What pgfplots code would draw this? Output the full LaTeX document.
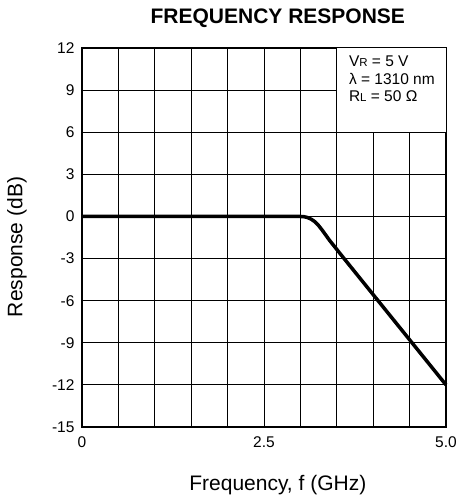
\documentclass[border=0pt]{standalone}
\usepackage{pgfplots}
\pgfplotsset{compat=1.18}
\usepackage{fontspec}
\setmainfont{Liberation Sans}
\begin{document}
\begin{tikzpicture}
\begin{axis}[
  scale only axis, width=364pt, height=379pt,
  xmin=0, xmax=5, ymin=-15, ymax=12,
  xtick={0,0.5,1,1.5,2,2.5,3,3.5,4,4.5,5},
  xticklabels={0,,,,,2.5,,,,,5.0},
  ytick={-15,-12,-9,-6,-3,0,3,6,9,12},
  yticklabels={-15,-12,-9,-6,-3,0,3,6,9,12},
  grid=major, grid style={black, line width=1pt},
  axis line style={black, line width=1.2pt},
  major tick length=0pt,
  tick label style={font=\fontsize{15.5}{15.5}\selectfont},
  xticklabel style={yshift=-6pt},
  yticklabel style={xshift=-4pt},
  clip=false,
]
\addplot[black, line width=3.5pt, line join=round] coordinates {
  (0,0) (3.0,0) (3.05,-0.02) (3.1,-0.08) (3.15,-0.2) (3.2,-0.38)
  (3.25,-0.65) (3.3,-0.98) (3.4,-1.7) (3.6,-3.0) (5.0,-12.0)};
\fill[white] (axis cs:3.5,6) rectangle (axis cs:5,12);
\draw[black, line width=1pt] (axis cs:3.5,6) rectangle (axis cs:5,12);
\node[anchor=north west, align=left, font=\fontsize{15.5}{17.5}\selectfont, inner sep=0pt]
  at ([xshift=12pt,yshift=-8pt]axis cs:3.5,12)
  {V{\fontsize{11.5}{11.5}\selectfont R} = 5 V\\ λ = 1310 nm\\ R{\fontsize{11.5}{11.5}\selectfont L} = 50 Ω};
\node[font=\fontsize{21}{21}\selectfont\bfseries] at ([yshift=30pt]rel axis cs:0.538,1) {FREQUENCY RESPONSE};
\node[font=\fontsize{21}{21}\selectfont] at ([yshift=-58pt]rel axis cs:0.538,0) {Frequency, f (GHz)};
\node[font=\fontsize{21}{21}\selectfont, rotate=90] at ([xshift=-65pt]rel axis cs:0,0.475) {Response (dB)};
\end{axis}
\path ([xshift=-82pt,yshift=-75pt]current axis.south west) ([xshift=12pt,yshift=48pt]current axis.north east);
\end{tikzpicture}
\end{document}
